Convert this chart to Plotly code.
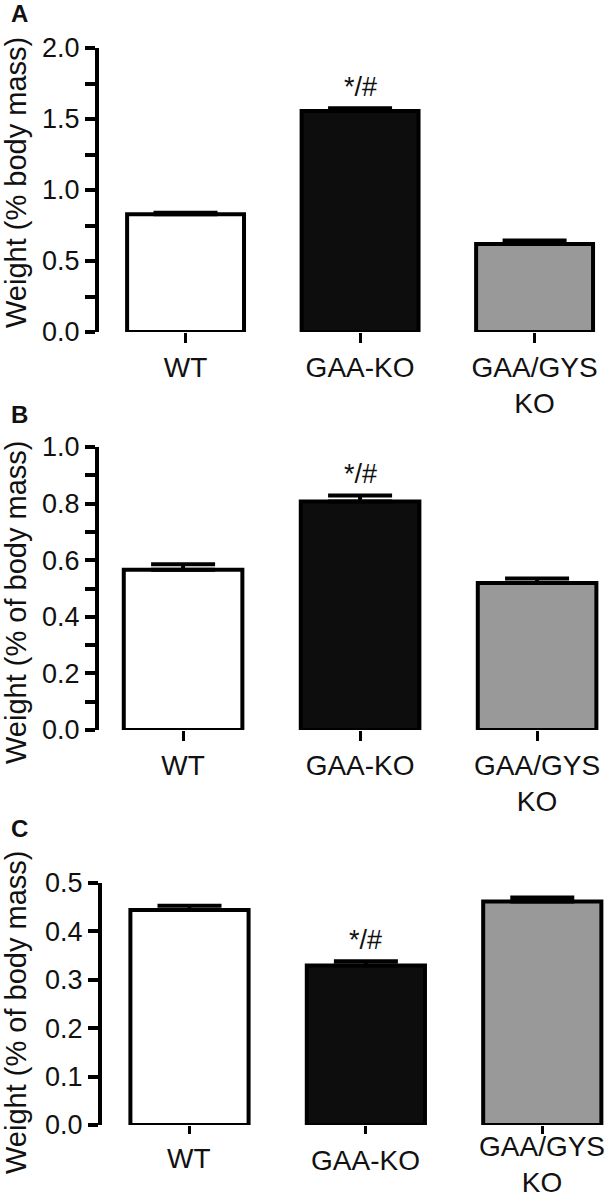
import plotly.graph_objects as go

# groups shown on every panel
categories = ["WT", "GAA-KO", "GAA/GYS<br>KO"]

# panel A: weight (% body mass)
a_values = [0.83, 1.556, 0.62]
a_errors = [0.01, 0.02, 0.025]

# panel B: weight (% of body mass)
b_values = [0.566, 0.807, 0.519]
b_errors = [0.02, 0.022, 0.016]

# panel C: weight (% of body mass)
c_values = [0.444, 0.3295, 0.462]
c_errors = [0.009, 0.009, 0.008]

# significance mark over GAA-KO
sig_label = "*/#"
sig_group = "GAA-KO"

W, H = 616, 1199
FONT = "Liberation Sans, Arial, sans-serif"
INK = "#111111"
bar_fills = ["#ffffff", "#0d0d0d", "#999999"]


def px_x(v):
    return v / W


def px_y(v):
    return (H - v) / H


panels = [
    dict(letter="A", values=a_values, errors=a_errors,
         title="Weight (% body mass)", yrange=[0, 2.0], dtick=0.5, minor=0.25,
         top=48, bottom=332, left=99, xrange=[-0.496, 2.415],
         title_y=183, letter_y=13, ticklen=10, label_y=None),
    dict(letter="B", values=b_values, errors=b_errors,
         title="Weight (% of body mass)", yrange=[0, 1.0], dtick=0.2, minor=0.1,
         top=447, bottom=730, left=99, xrange=[-0.475, 2.395],
         title_y=603, letter_y=414, ticklen=10, label_y=None),
    # bottom panel: labels placed by hand so the two-line one stays on the page
    dict(letter="C", values=c_values, errors=c_errors,
         title="Weight (% of body mass)", yrange=[0, 0.5], dtick=0.1, minor=None,
         top=883, bottom=1125, left=102, xrange=[-0.496, 2.367],
         title_y=1013, letter_y=828, ticklen=8, label_y=[1158, 1160, 1164]),
]

fig = go.Figure()
annotations = []

for i, p in enumerate(panels):
    n = "" if i == 0 else str(i + 1)
    xa, ya = "x" + n, "y" + n

    fig.add_trace(go.Bar(
        x=categories, y=p["values"],
        xaxis=xa, yaxis=ya,
        width=0.67,
        marker=dict(color=bar_fills, line=dict(color="black", width=4)),
        error_y=dict(type="data", array=p["errors"], symmetric=False,
                     arrayminus=[0, 0, 0], color="black", thickness=4, width=32),
        showlegend=False,
    ))

    xaxis = dict(domain=[px_x(p["left"]), px_x(607)], anchor=ya,
                 type="category", range=p["xrange"], automargin=False,
                 showline=False, showgrid=False, zeroline=False,
                 ticks="outside", ticklen=p["ticklen"], tickwidth=3, tickcolor="black",
                 showticklabels=p["label_y"] is None,
                 tickfont=dict(family=FONT, size=28, color=INK))
    yaxis = dict(domain=[px_y(p["bottom"]), px_y(p["top"])], anchor=xa,
                 range=p["yrange"], automargin=False,
                 showline=True, linewidth=4, linecolor="black",
                 showgrid=False, zeroline=False,
                 ticks="outside", ticklen=10, tickwidth=4, tickcolor="black",
                 dtick=p["dtick"], tick0=0, tickformat=".1f",
                 tickfont=dict(family=FONT, size=27, color=INK))
    if p["minor"]:
        yaxis["minor"] = dict(dtick=p["minor"], ticks="outside", ticklen=10,
                              tickwidth=4, tickcolor="black", showgrid=False)
    fig.update_layout({"xaxis" + n: xaxis, "yaxis" + n: yaxis})

    if p["label_y"] is not None:
        for cat, ly in zip(categories, p["label_y"]):
            annotations.append(dict(
                x=cat, y=px_y(ly), xref=xa, yref="paper",
                text=cat, showarrow=False, xanchor="center", yanchor="middle",
                font=dict(family=FONT, size=28, color=INK)))

    k = categories.index(sig_group)
    annotations.append(dict(
        x=sig_group, y=p["values"][k] + p["errors"][k], xref=xa, yref=ya,
        text=sig_label, showarrow=False, yanchor="bottom", yshift=4,
        font=dict(family=FONT, size=27, color=INK)))

    annotations.append(dict(
        x=px_x(16), y=px_y(p["title_y"]), xref="paper", yref="paper",
        text=p["title"], textangle=-90, showarrow=False,
        xanchor="center", yanchor="middle",
        font=dict(family=FONT, size=29, color=INK)))

    annotations.append(dict(
        x=px_x(19), y=px_y(p["letter_y"]), xref="paper", yref="paper",
        text="<b>" + p["letter"] + "</b>", showarrow=False,
        xanchor="center", yanchor="middle",
        font=dict(family=FONT, size=24, color=INK)))

fig.update_layout(
    width=W, height=H,
    margin=dict(l=0, r=0, t=0, b=0),
    paper_bgcolor="white", plot_bgcolor="white",
    annotations=annotations,
)

# drop the default page margin so the figure fills the window exactly
fig.write_html("out.html", config={"displayModeBar": False},
               post_script="document.body.style.margin='0';"
                           "document.body.style.overflow='hidden';")
